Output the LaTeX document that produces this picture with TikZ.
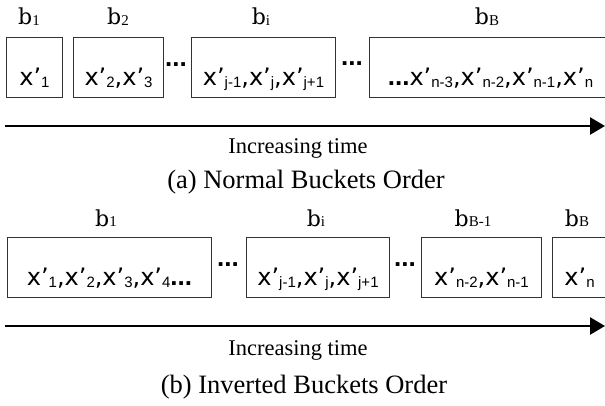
\documentclass[tikz,border=0pt]{standalone}
\usepackage{fontspec}
\setmainfont{Liberation Serif}
\newfontfamily\boxfont{Liberation Sans}
\newfontfamily\xfont{DejaVu Sans}
\newfontfamily\bfont{DejaVu Serif}
\usetikzlibrary{arrows.meta}
\newcommand{\xs}[1]{{\xfont\fontsize{24}{24}\selectfont x’}\raisebox{-2pt}{\fontsize{15}{15}\selectfont #1}}
\newcommand{\cm}{{\xfont\fontsize{24}{24}\selectfont ,}}
\newcommand{\bl}[1]{{\bfont\fontsize{22}{22}\selectfont b}\raisebox{-1pt}{\fontsize{15}{15}\selectfont #1}}
\newcommand{\bdots}{{\fontsize{26}{26}\selectfont\bfseries ...}}
\begin{document}
\begin{tikzpicture}[x=1pt,y=-1pt,
  bucket/.style={draw=black!80, line width=1pt, inner sep=0pt, text height=48pt, text depth=12pt, anchor=north west, font=\boxfont},
  blabel/.style={anchor=base, inner sep=0pt},
  gap/.style={anchor=base, inner sep=0pt, font=\boxfont},
  timeline/.style={line width=2.5pt, -{Triangle[length=15pt,width=17pt]}},
  timetext/.style={anchor=base, inner sep=0pt, font=\fontsize{22.5}{22.5}\selectfont},
  caption/.style={anchor=base, inner sep=0pt, font=\fontsize{26.5}{26.5}\selectfont}]
\clip (0,0) rectangle (605,406);
% (a) normal order
\node[bucket, minimum width=56pt] (a1) at (6,37) {\xs{1}};
\node[bucket, minimum width=90pt] (a2) at (73,37) {\xs{2}\cm\xs{3}};
\node[bucket, minimum width=144pt] (a3) at (191,37) {\xs{j-1}\cm\xs{j}\cm\xs{j+1}};
\node[bucket, minimum width=242pt] (a4) at (369,37) {\bdots\xs{n-3}\cm\xs{n-2}\cm\xs{n-1}\cm\xs{n}};
\node[blabel] (la1) at (29,25) {\bl{1}};
\node[blabel] (la2) at (118,25) {\bl{2}};
\node[blabel] (la3) at (261,25) {\bl{i}};
\node[blabel] (la4) at (487,25) {\bl{B}};
\node[gap] (ga1) at (176,67) {\bdots};
\node[gap] (ga2) at (352,66) {\bdots};
\coordinate (sa) at (5,126);
\coordinate (ea) at (605,126);
\draw[timeline] (sa) -- (ea);
\node[timetext] (ta) at (298,154) {Increasing time};
\node[caption] (ca) at (306,189) {(a) Normal Buckets Order};
% (b) inverted order
\node[bucket, minimum width=204pt] (b1) at (7,237) {\xs{1}\cm\xs{2}\cm\xs{3}\cm\xs{4}\bdots};
\node[bucket, minimum width=143pt] (b2) at (246,237) {\xs{j-1}\cm\xs{j}\cm\xs{j+1}};
\node[bucket, minimum width=120pt] (b3) at (421,237) {\xs{n-2}\cm\xs{n-1}};
\node[bucket, minimum width=54pt] (b4) at (552,237) {\xs{n}};
\node[blabel] (lb1) at (106,226) {\bl{1}};
\node[blabel] (lb2) at (316,226) {\bl{i}};
\node[blabel] (lb3) at (473,226) {\bl{B-1}};
\node[blabel] (lb4) at (577,226) {\bl{B}};
\node[gap] (gb1) at (228,266) {\bdots};
\node[gap] (gb2) at (405,266) {\bdots};
\coordinate (sb) at (5,326);
\coordinate (eb) at (605,326);
\draw[timeline] (sb) -- (eb);
\node[timetext] (tb) at (298,355) {Increasing time};
\node[caption] (cb) at (304,393) {(b) Inverted Buckets Order};
\end{tikzpicture}
\end{document}
